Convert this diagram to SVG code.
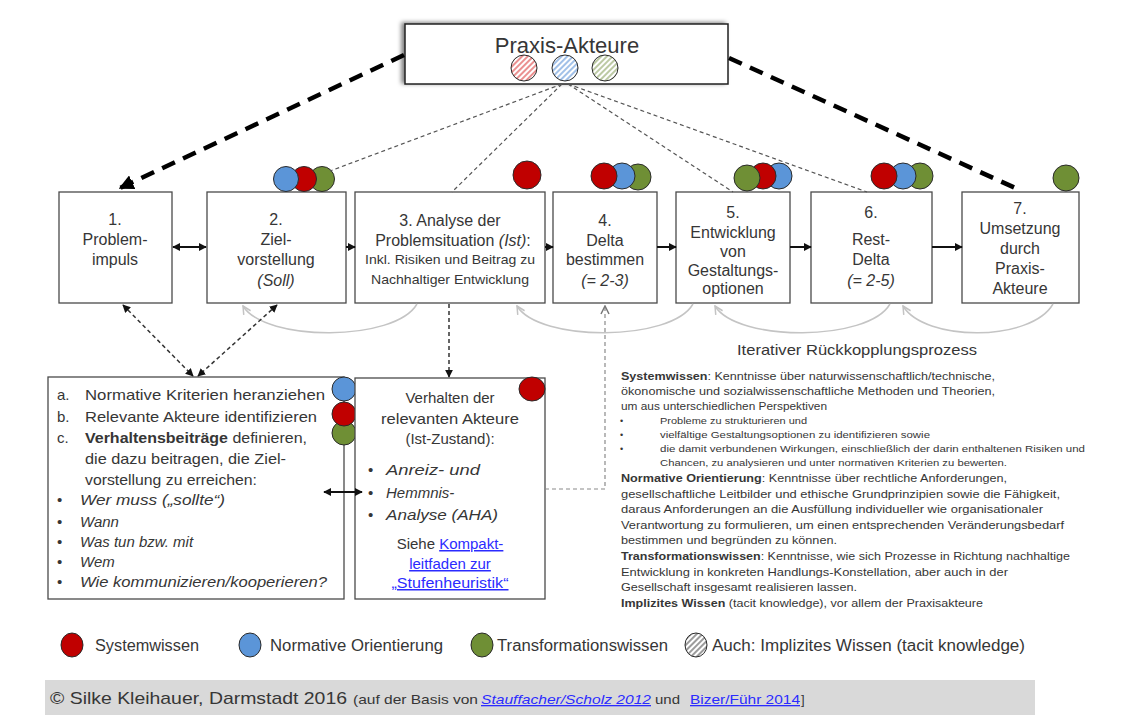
<svg xmlns="http://www.w3.org/2000/svg" width="1125" height="724" viewBox="0 0 1125 724">
  <style>
    text { font-family: "Liberation Sans", Arial, sans-serif; fill: #363636; }
    .box { fill: #ffffff; stroke: #4a4a4a; stroke-width: 1.3; }
    .bt { font-size: 16px; text-anchor: middle; }
    .bs { font-size: 13px; text-anchor: middle; }
    .it { font-style: italic; }
    .lt { font-size: 15px; }
    .rt { font-size: 11px; }
    .rb { font-size: 9px; }
    .b { font-weight: bold; }
    .lnk { fill: #2b2bff; text-decoration: underline; }
    .ball { stroke: #2a2a2a; stroke-width: 1; }
    .red { fill: #c00000; }
    .blue { fill: #5b95d8; }
    .green { fill: #6f8f35; }
    .flow { stroke: #111; stroke-width: 2; fill: none; }
    .thick { stroke: #000; stroke-width: 4.5; stroke-dasharray: 14 9; fill: none; }
    .thin { stroke: #555; stroke-width: 1.2; stroke-dasharray: 4 3; fill: none; }
    .dashdark { stroke: #333; stroke-width: 1.5; stroke-dasharray: 4 3; fill: none; }
    .dashgray { stroke: #8a8a8a; stroke-width: 1.2; stroke-dasharray: 4 3; fill: none; }
    .loop { stroke: #c4c4c4; stroke-width: 1.5; fill: none; }
  </style>
  <defs>
    <marker id="ah" viewBox="0 0 10 10" refX="9" refY="5" markerWidth="8" markerHeight="8" markerUnits="userSpaceOnUse" orient="auto-start-reverse">
      <path d="M0,0 L10,5 L0,10 z" fill="#111"/>
    </marker>
    <marker id="ahBig" viewBox="0 0 10 10" refX="9" refY="5" markerWidth="15" markerHeight="15" markerUnits="userSpaceOnUse" orient="auto-start-reverse">
      <path d="M0,0 L10,5 L0,10 z" fill="#000"/>
    </marker>
    <marker id="ahOpen" viewBox="0 0 10 10" refX="9" refY="5" markerWidth="10" markerHeight="10" markerUnits="userSpaceOnUse" orient="auto-start-reverse">
      <path d="M1,1 L9,5 L1,9" fill="none" stroke="#c4c4c4" stroke-width="1.5"/>
    </marker>
    <marker id="ahOpenDark" viewBox="0 0 10 10" refX="9" refY="5" markerWidth="10" markerHeight="10" markerUnits="userSpaceOnUse" orient="auto-start-reverse">
      <path d="M1,1 L9,5 L1,9" fill="none" stroke="#777" stroke-width="1.5"/>
    </marker>
    <pattern id="hRed" width="4" height="4" patternUnits="userSpaceOnUse" patternTransform="rotate(45)">
      <rect width="4" height="4" fill="#fff"/><line x1="1" y1="0" x2="1" y2="4" stroke="#e05555" stroke-width="1.3"/>
    </pattern>
    <pattern id="hBlue" width="4" height="4" patternUnits="userSpaceOnUse" patternTransform="rotate(45)">
      <rect width="4" height="4" fill="#fff"/><line x1="1" y1="0" x2="1" y2="4" stroke="#6f9fdc" stroke-width="1.3"/>
    </pattern>
    <pattern id="hGreen" width="4" height="4" patternUnits="userSpaceOnUse" patternTransform="rotate(45)">
      <rect width="4" height="4" fill="#fff"/><line x1="1" y1="0" x2="1" y2="4" stroke="#98ad72" stroke-width="1.3"/>
    </pattern>
    <pattern id="hGray" width="4" height="4" patternUnits="userSpaceOnUse" patternTransform="rotate(45)">
      <rect width="4" height="4" fill="#fff"/><line x1="1" y1="0" x2="1" y2="4" stroke="#666" stroke-width="1.3"/>
    </pattern>
    <filter id="shadow" x="-10%" y="-30%" width="120%" height="160%">
      <feDropShadow dx="-3" dy="-1" stdDeviation="2" flood-color="#000" flood-opacity="0.5"/>
    </filter>
  </defs>

  <rect width="1125" height="724" fill="#ffffff"/>

  <!-- Praxis-Akteure -->
  <g id="praxis-akteure">
    <rect x="405" y="24" width="323" height="60" fill="#fff" stroke="#222" stroke-width="1.5" filter="url(#shadow)"/>
    <text x="567" y="53" font-size="22" text-anchor="middle">Praxis-Akteure</text>
    <circle class="ball" cx="524" cy="68" r="13" fill="url(#hRed)"/>
    <circle class="ball" cx="565" cy="68" r="13" fill="url(#hBlue)"/>
    <circle class="ball" cx="605" cy="68" r="13" fill="url(#hGreen)"/>
  </g>

  <!-- step 1 -->
  <g id="step1">
    <rect class="box" x="59" y="192" width="113" height="111"/>
    <text class="bt" x="115" y="225">1.</text>
    <text class="bt" x="115" y="245">Problem-</text>
    <text class="bt" x="115" y="265">impuls</text>
  </g>

  <!-- step 2 -->
  <g id="step2">
    <rect class="box" x="207" y="192" width="139" height="111"/>
    <text class="bt" x="276" y="225">2.</text>
    <text class="bt" x="276" y="245">Ziel-</text>
    <text class="bt" x="276" y="265">vorstellung</text>
    <text class="bt it" x="276" y="286">(Soll)</text>
    <circle class="ball green" cx="322" cy="179" r="12.5"/>
    <circle class="ball red" cx="304" cy="179" r="12.5"/>
    <circle class="ball blue" cx="286" cy="179" r="12.5"/>
  </g>

  <!-- step 3 -->
  <g id="step3">
    <rect class="box" x="355" y="192" width="190" height="111"/>
    <text class="bt" x="450" y="226">3. Analyse der</text>
    <text class="bt" x="453" y="246">Problemsituation   <tspan class="it">(Ist)</tspan>:</text>
    <text class="bs" x="450" y="264" textLength="170" lengthAdjust="spacingAndGlyphs">Inkl. Risiken und Beitrag zu</text>
    <text class="bs" x="450" y="284" textLength="158" lengthAdjust="spacingAndGlyphs">Nachhaltiger Entwicklung</text>
    <circle class="ball red" cx="527" cy="175" r="14"/>
  </g>

  <!-- step 4 -->
  <g id="step4">
    <rect class="box" x="553" y="192" width="104" height="111"/>
    <text class="bt" x="605" y="226">4.</text>
    <text class="bt" x="605" y="246">Delta</text>
    <text class="bt" x="605" y="265">bestimmen</text>
    <text class="bt it" x="605" y="286">(= 2-3)</text>
    <circle class="ball green" cx="638" cy="177" r="13"/>
    <circle class="ball blue" cx="622" cy="176" r="13"/>
    <circle class="ball red" cx="604" cy="176" r="13"/>
  </g>

  <!-- step 5 -->
  <g id="step5">
    <rect class="box" x="676" y="192" width="114" height="111"/>
    <text class="bt" x="733" y="218">5.</text>
    <text class="bt" x="733" y="238">Entwicklung</text>
    <text class="bt" x="733" y="257" font-size="15">von</text>
    <text class="bt" x="733" y="276">Gestaltungs-</text>
    <text class="bt" x="733" y="294">optionen</text>
    <circle class="ball blue" cx="779" cy="176" r="13"/>
    <circle class="ball red" cx="763" cy="176" r="13"/>
    <circle class="ball green" cx="747" cy="178" r="13"/>
  </g>

  <!-- step 6 -->
  <g id="step6">
    <rect class="box" x="811" y="192" width="121" height="111"/>
    <text class="bt" x="871" y="218">6.</text>
    <text class="bt" x="871" y="245">Rest-</text>
    <text class="bt" x="871" y="265">Delta</text>
    <text class="bt it" x="871" y="286">(= 2-5)</text>
    <circle class="ball green" cx="920" cy="176" r="13"/>
    <circle class="ball blue" cx="903" cy="176" r="13"/>
    <circle class="ball red" cx="884" cy="176" r="13"/>
  </g>

  <!-- step 7 -->
  <g id="step7">
    <rect class="box" x="962" y="192" width="117" height="111"/>
    <text class="bt" x="1020" y="214">7.</text>
    <text class="bt" x="1020" y="234">Umsetzung</text>
    <text class="bt" x="1020" y="254">durch</text>
    <text class="bt" x="1020" y="274">Praxis-</text>
    <text class="bt" x="1020" y="294">Akteure</text>
    <circle class="ball green" cx="1066" cy="178" r="13"/>
  </g>

  <!-- criteria box -->
  <g id="criteria">
    <rect class="box" x="48" y="377" width="296" height="222"/>
    <text class="lt" x="57" y="400">a.</text>
    <text class="lt" x="85" y="400" textLength="240" lengthAdjust="spacingAndGlyphs">Normative Kriterien heranziehen</text>
    <text class="lt" x="57" y="422">b.</text>
    <text class="lt" x="85" y="422" textLength="232" lengthAdjust="spacingAndGlyphs">Relevante Akteure identifizieren</text>
    <text class="lt" x="57" y="443">c.</text>
    <text class="lt" x="85" y="443" textLength="222" lengthAdjust="spacingAndGlyphs"><tspan class="b">Verhaltensbeiträge</tspan> definieren,</text>
    <text class="lt" x="85" y="464" textLength="201" lengthAdjust="spacingAndGlyphs">die dazu beitragen,  die Ziel-</text>
    <text class="lt" x="85" y="485" textLength="172" lengthAdjust="spacingAndGlyphs">vorstellung  zu erreichen:</text>
    <text class="lt" x="57" y="505">•</text>
    <text class="lt it" x="80" y="505" textLength="145" lengthAdjust="spacingAndGlyphs">Wer muss („sollte“)</text>
    <text class="lt" x="57" y="527">•</text>
    <text class="lt it" x="80" y="527">Wann</text>
    <text class="lt" x="57" y="547">•</text>
    <text class="lt it" x="80" y="547">Was tun bzw.  mit</text>
    <text class="lt" x="57" y="567">•</text>
    <text class="lt it" x="80" y="567">Wem</text>
    <text class="lt" x="57" y="587">•</text>
    <text class="lt it" x="80" y="587" textLength="247" lengthAdjust="spacingAndGlyphs">Wie kommunizieren/kooperieren?</text>
    <circle class="ball green" cx="344" cy="433" r="12"/>
    <circle class="ball red" cx="344" cy="414" r="12"/>
    <circle class="ball blue" cx="344" cy="389" r="12"/>
  </g>

  <!-- behaviour box -->
  <g id="behaviour">
    <rect class="box" x="355" y="378" width="190" height="221"/>
    <text class="lt" x="450" y="403" text-anchor="middle">Verhalten  der</text>
    <text class="lt" x="450" y="424" text-anchor="middle" textLength="138" lengthAdjust="spacingAndGlyphs">relevanten  Akteure</text>
    <text class="lt" x="450" y="444" text-anchor="middle">(Ist-Zustand):</text>
    <text class="lt" x="368" y="475">•</text>
    <text class="lt it" x="386" y="475" textLength="94" lengthAdjust="spacingAndGlyphs">Anreiz-  und</text>
    <text class="lt" x="368" y="498">•</text>
    <text class="lt it" x="386" y="498">Hemmnis-</text>
    <text class="lt" x="368" y="520">•</text>
    <text class="lt it" x="386" y="520" textLength="112" lengthAdjust="spacingAndGlyphs">Analyse (AHA)</text>
    <text class="lt" x="450" y="549" text-anchor="middle">Siehe <tspan class="lnk">Kompakt-</tspan></text>
    <text class="lt lnk" x="450" y="569" text-anchor="middle">leitfaden zur</text>
    <text class="lt lnk" x="450" y="588" text-anchor="middle" textLength="117" lengthAdjust="spacingAndGlyphs">„Stufenheuristik“</text>
    <ellipse class="ball red" cx="532" cy="389" rx="13" ry="12"/>
  </g>

  <!-- connectors -->
  <g id="connectors">
    <!-- feedback loops under the process row -->
    <path class="loop" d="M243,306 C265,342 395,342 417,304" marker-start="url(#ahOpen)"/>
    <path class="loop" d="M517,306 C539,342 671,342 693,304" marker-start="url(#ahOpen)"/>
    <path class="loop" d="M715,306 C737,342 868,342 890,304" marker-start="url(#ahOpen)"/>
    <path class="loop" d="M903,306 C925,342 1031,342 1053,304" marker-start="url(#ahOpen)"/>

    <!-- Praxis-Akteure to steps 1 and 7 -->
    <path class="thick" d="M404,55 L120,188" marker-end="url(#ahBig)"/>
    <path class="thick" d="M729,58 L1022,191"/>

    <!-- Praxis-Akteure fan-out -->
    <path class="thin" d="M562,84 L330,171"/>
    <path class="thin" d="M562,84 L452,192"/>
    <path class="thin" d="M568,84 L733,192"/>
    <path class="thin" d="M568,84 L867,192"/>

    <!-- main process flow -->
    <line class="flow" x1="173" y1="247" x2="206" y2="247" marker-start="url(#ah)" marker-end="url(#ah)"/>
    <line class="flow" x1="346" y1="247" x2="355" y2="247" marker-end="url(#ah)"/>
    <line class="flow" x1="545" y1="247" x2="553" y2="247" marker-end="url(#ah)"/>
    <line class="flow" x1="657" y1="247" x2="676" y2="247" marker-end="url(#ah)"/>
    <line class="flow" x1="790" y1="247" x2="811" y2="247" marker-end="url(#ah)"/>
    <line class="flow" x1="932" y1="247" x2="962" y2="247" marker-end="url(#ah)"/>

    <!-- steps 1/2 to criteria box -->
    <line class="dashdark" x1="123" y1="305" x2="193" y2="376" marker-start="url(#ah)" marker-end="url(#ah)"/>
    <line class="dashdark" x1="277" y1="305" x2="198" y2="376" marker-start="url(#ah)" marker-end="url(#ah)"/>

    <!-- step 3 to behaviour box -->
    <line class="dashdark" x1="449" y1="304" x2="449" y2="377" marker-end="url(#ah)"/>

    <!-- criteria box to behaviour box -->
    <line class="flow" x1="324" y1="492" x2="362" y2="492" marker-start="url(#ah)" marker-end="url(#ah)"/>

    <!-- behaviour box back to step 4 -->
    <path class="dashgray" d="M545,489 L605,489 L605,306" marker-end="url(#ahOpenDark)"/>
  </g>

  <!-- feedback label and knowledge definitions -->
  <g id="definitions">
    <text x="857" y="355" font-size="15" text-anchor="middle" textLength="240" lengthAdjust="spacingAndGlyphs">Iterativer  Rückkopplungsprozess</text>
    <text class="rt" x="621" y="380" textLength="374" lengthAdjust="spacingAndGlyphs"><tspan class="b">Systemwissen</tspan>:  Kenntnisse über naturwissenschaftlich/technische,</text>
    <text class="rt" x="621" y="395" textLength="374" lengthAdjust="spacingAndGlyphs">ökonomische und sozialwissenschaftliche Methoden und Theorien,</text>
    <text class="rt" x="621" y="410" textLength="206" lengthAdjust="spacingAndGlyphs">um aus unterschiedlichen Perspektiven</text>
    <text class="rb" x="620" y="424">•</text>
    <text class="rb" x="660" y="424" textLength="147" lengthAdjust="spacingAndGlyphs">Probleme zu strukturieren und</text>
    <text class="rb" x="620" y="438">•</text>
    <text class="rb" x="660" y="438" textLength="270" lengthAdjust="spacingAndGlyphs">vielfältige Gestaltungsoptionen zu identifizieren sowie</text>
    <text class="rb" x="620" y="452">•</text>
    <text class="rb" x="660" y="452" textLength="425" lengthAdjust="spacingAndGlyphs">die damit verbundenen Wirkungen, einschließlich der darin enthaltenen Risiken und</text>
    <text class="rb" x="660" y="466" textLength="347" lengthAdjust="spacingAndGlyphs">Chancen, zu analysieren und unter normativen Kriterien zu bewerten.</text>
    <text class="rt" x="621" y="482" textLength="386" lengthAdjust="spacingAndGlyphs"><tspan class="b">Normative Orientierung</tspan>: Kenntnisse über rechtliche Anforderungen,</text>
    <text class="rt" x="621" y="498" textLength="439" lengthAdjust="spacingAndGlyphs">gesellschaftliche  Leitbilder   und ethische Grundprinzipien sowie die Fähigkeit,</text>
    <text class="rt" x="621" y="513" textLength="422" lengthAdjust="spacingAndGlyphs">daraus  Anforderungen an die Ausfüllung individueller wie organisationaler</text>
    <text class="rt" x="621" y="529" textLength="443" lengthAdjust="spacingAndGlyphs">Verantwortung zu formulieren, um einen entsprechenden Veränderungsbedarf</text>
    <text class="rt" x="621" y="544" textLength="216" lengthAdjust="spacingAndGlyphs">bestimmen und begründen  zu können.</text>
    <text class="rt" x="621" y="560" textLength="449" lengthAdjust="spacingAndGlyphs"><tspan class="b">Transformationswissen</tspan>: Kenntnisse, wie sich Prozesse in Richtung nachhaltige</text>
    <text class="rt" x="621" y="576" textLength="387" lengthAdjust="spacingAndGlyphs">Entwicklung  in konkreten Handlungs-Konstellation,  aber auch in der</text>
    <text class="rt" x="621" y="591" textLength="236" lengthAdjust="spacingAndGlyphs">Gesellschaft insgesamt realisieren lassen.</text>
    <text class="rt" x="621" y="607" textLength="362" lengthAdjust="spacingAndGlyphs"><tspan class="b">Implizites Wissen</tspan> (tacit knowledge), vor allem der Praxisakteure</text>
  </g>

  <!-- legend -->
  <g id="legend">
    <ellipse class="ball red" cx="72" cy="645" rx="11" ry="12"/>
    <text x="95" y="651" font-size="16" textLength="104" lengthAdjust="spacingAndGlyphs">Systemwissen</text>
    <ellipse class="ball blue" cx="250" cy="645" rx="11" ry="12"/>
    <text x="270" y="651" font-size="16" textLength="173" lengthAdjust="spacingAndGlyphs">Normative  Orientierung</text>
    <ellipse class="ball green" cx="482" cy="645" rx="11" ry="12"/>
    <text x="497" y="651" font-size="16" textLength="171" lengthAdjust="spacingAndGlyphs">Transformationswissen</text>
    <ellipse class="ball" cx="696" cy="645" rx="11" ry="12" fill="url(#hGray)"/>
    <text x="712" y="651" font-size="16" textLength="313" lengthAdjust="spacingAndGlyphs">Auch:  Implizites  Wissen  (tacit knowledge)</text>
  </g>

  <!-- footer -->
  <g id="footer">
    <rect x="45" y="680" width="990" height="35" fill="#d9d9d9"/>
    <text x="50" y="704" font-size="17" textLength="297" lengthAdjust="spacingAndGlyphs">© Silke Kleihauer, Darmstadt 2016</text>
    <text x="353" y="704" font-size="13" textLength="125" lengthAdjust="spacingAndGlyphs">(auf der Basis von</text>
    <text x="481" y="704" font-size="13" class="lnk it" textLength="170" lengthAdjust="spacingAndGlyphs">Stauffacher/Scholz 2012 </text>
    <text x="655" y="704" font-size="13" textLength="25" lengthAdjust="spacingAndGlyphs">und</text>
    <text x="690" y="704" font-size="13" class="lnk" textLength="110" lengthAdjust="spacingAndGlyphs">Bizer/Führ 2014</text>
    <text x="801" y="704" font-size="13">]</text>
  </g>
</svg>
